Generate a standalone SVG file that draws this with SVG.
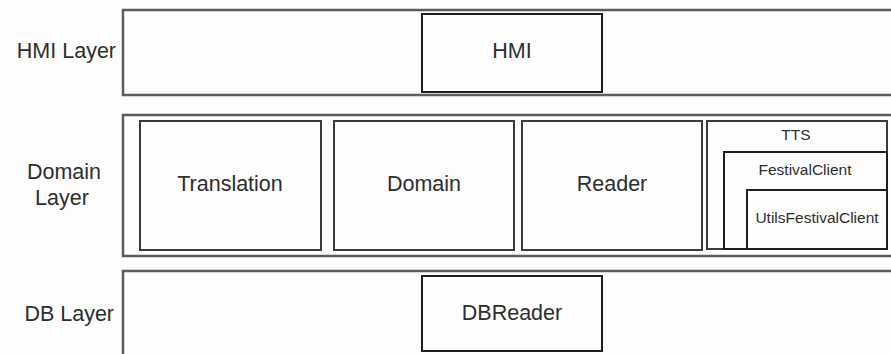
<svg xmlns="http://www.w3.org/2000/svg" width="891" height="354" viewBox="0 0 891 354">
  <style>
    .layer { fill: #fdfdfd; stroke: #5c5c5c; stroke-width: 2.5; }
    .box { fill: #fdfdfd; stroke: #3a3a3a; stroke-width: 2; }
    .dark { fill: #fdfdfd; stroke: #1e1e1e; stroke-width: 2; }
    text { font-family: "Liberation Sans", Arial, sans-serif; fill: #2e2e2e; }
    .big { font-size: 21.5px; }
    .small { font-size: 15.5px; }
    .mid { text-anchor: middle; }
    .end { text-anchor: end; }
  </style>
  <rect width="891" height="354" fill="#fdfdfd"/>

  <!-- layer labels -->
  <g id="labels">
    <text class="big end" x="116" y="58">HMI Layer</text>
    <text class="big mid" x="64" y="179">Domain</text>
    <text class="big mid" x="62" y="205">Layer</text>
    <text class="big end" x="114" y="321">DB Layer</text>
  </g>

  <!-- HMI layer -->
  <g id="hmi-layer">
    <rect class="layer" x="123" y="10" width="780" height="85"/>
  </g>
  <g id="hmi">
    <rect class="dark" x="422" y="14" width="180" height="78"/>
    <text class="big mid" x="512" y="58">HMI</text>
  </g>

  <!-- Domain layer -->
  <g id="domain-layer">
    <rect class="layer" x="123" y="115" width="780" height="141"/>
  </g>
  <g id="translation">
    <rect class="box" x="140" y="121" width="181" height="129"/>
    <text class="big mid" x="230" y="191">Translation</text>
  </g>
  <g id="domain">
    <rect class="box" x="334" y="121" width="180" height="129"/>
    <text class="big mid" x="424" y="191">Domain</text>
  </g>
  <g id="reader">
    <rect class="box" x="522" y="121" width="180" height="129"/>
    <text class="big mid" x="612" y="191">Reader</text>
  </g>
  <g id="tts">
    <rect class="box" x="707" y="121" width="180" height="128"/>
    <text class="small mid" x="796" y="140">TTS</text>
  </g>
  <g id="festival-client">
    <rect class="dark" x="724" y="152" width="163" height="97"/>
    <text class="small mid" x="805" y="175">FestivalClient</text>
  </g>
  <g id="utils-festival-client">
    <rect class="dark" x="747" y="190" width="140" height="59"/>
    <text class="small mid" x="817" y="223">UtilsFestivalClient</text>
  </g>

  <!-- DB layer -->
  <g id="db-layer">
    <rect class="layer" x="123" y="271" width="780" height="100"/>
  </g>
  <g id="dbreader">
    <rect class="dark" x="422" y="276" width="180" height="75"/>
    <text class="big mid" x="512" y="320">DBReader</text>
  </g>

  <g id="connectors"/>
</svg>
